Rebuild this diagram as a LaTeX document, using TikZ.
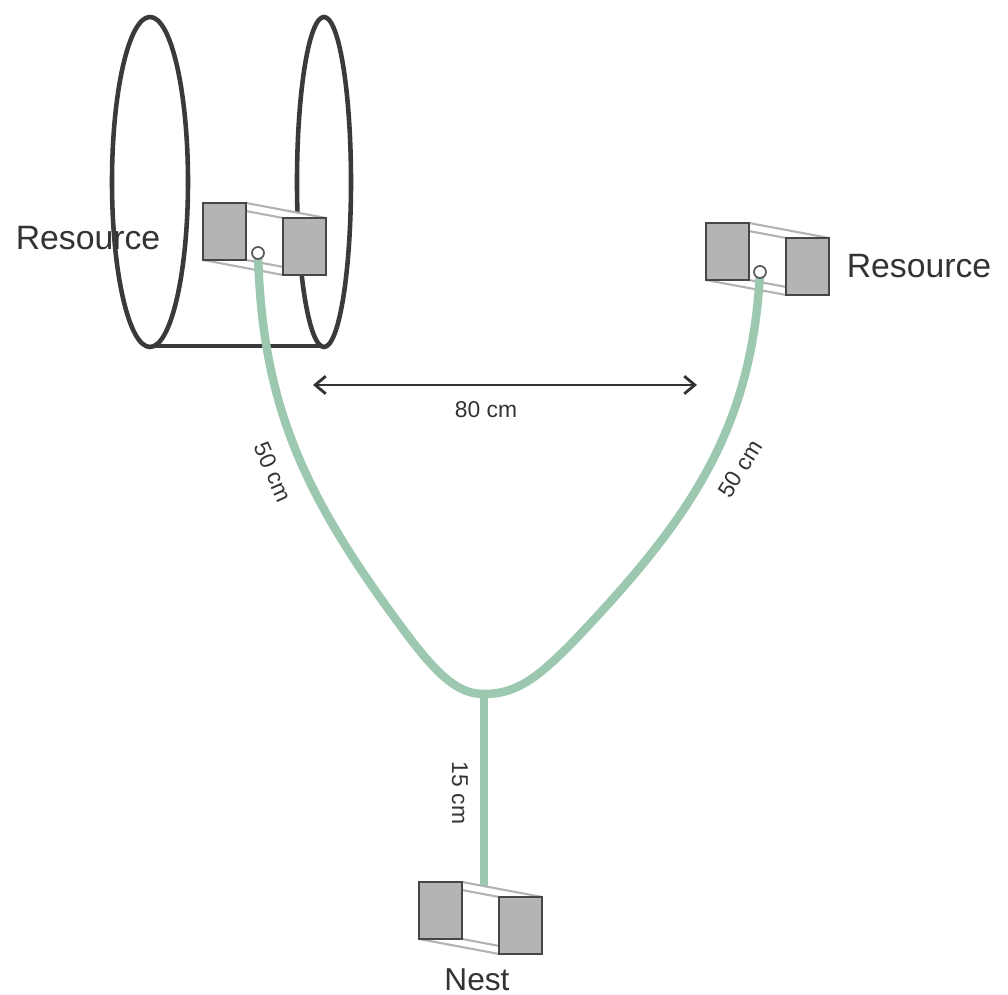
\documentclass[tikz,border=0pt]{standalone}
\usepackage{fontspec}
\setmainfont{Liberation Sans}
\usetikzlibrary{arrows.meta}
\definecolor{ring}{HTML}{3A3A3A}
\definecolor{tubegreen}{HTML}{9DC8B0}
\definecolor{facegray}{HTML}{B4B4B4}
\definecolor{ink}{HTML}{333333}

\tikzset{
  ring/.style={draw=ring,line width=1.3pt},
  face/.style={fill=facegray,draw=gray!55!black,line width=0.5pt},
  rim/.style={draw=gray!60,line width=0.6pt},
  tube/.style={draw=tubegreen,line width=2.4pt},
  hole/.style={draw=gray!70!black,fill=white,line width=0.5pt},
  lbl/.style={text=ink,inner sep=0pt},
}

% prism holder, #1/#2 = top left corner of its front face
\newcommand{\holderbox}[2]{%
  \begin{scope}[shift={(#1,#2)}]
    \fill[white] (0,0) -- (43,0) -- (123,15) -- (123,72) -- (80,72) -- (0,57) -- cycle;
    \foreach \dx/\dy in {0/0,43/0,0/57,43/57}{\draw[rim] (\dx,\dy) -- ++(80,15);}
    \draw[face] (0,0) rectangle (43,57);
    \draw[face] (80,15) rectangle (123,72);
  \end{scope}}

\begin{document}
\begin{tikzpicture}[x=0.01cm,y=-0.01cm]
\useasboundingbox (0,0) rectangle (1008,995);

% hoops of the left resource
\draw[ring] (150,182) ellipse [x radius=38,y radius=165];
\draw[ring] (324,182) ellipse [x radius=27,y radius=165];
\draw[ring,line width=0.9pt] (152,346) -- (323,346);

\holderbox{203}{203}
\holderbox{706}{223}

% tube ends
\coordinate (lhole) at (258,253);
\coordinate (rhole) at (760,272);
\coordinate (fork) at (484,694);
\coordinate (nesttop) at (484,892);

\draw[tube] (lhole) .. controls (262,400) and (300,490) .. (400,625)
  .. controls (440,680) and (460,694) .. (fork)
  .. controls (515,694) and (535,680) .. (570,645)
  .. controls (690,520) and (752,430) .. (rhole);
\draw[tube] (fork) -- (nesttop);
\draw[hole] (lhole) circle (6);
\draw[hole] (rhole) circle (6);

\holderbox{419}{882}

% distances
\coordinate (d1) at (313,385);
\coordinate (d2) at (697,385);
\draw[ink,line width=0.8pt,{Straight Barb[length=3pt,width=5pt]}-{Straight Barb[length=3pt,width=5pt]}] (d1) -- (d2);
\node[lbl,font=\fontsize{6.5}{8}\selectfont] (dist) at (486,410) {80 cm};
\node[lbl,font=\fontsize{6.5}{8}\selectfont,rotate=-66] (lenl) at (273,472) {50 cm};
\node[lbl,font=\fontsize{6.5}{8}\selectfont,rotate=58] (lenr) at (740,469) {50 cm};
\node[lbl,font=\fontsize{6.5}{8}\selectfont,rotate=-90] (stem) at (460,793) {15 cm};

\node[lbl,font=\fontsize{9.6}{11}\selectfont] (resl) at (88,238) {Resource};
\node[lbl,font=\fontsize{9.6}{11}\selectfont] (resr) at (919,266) {Resource};
\node[lbl,font=\fontsize{9}{11}\selectfont] (nest) at (477,980) {Nest};
\end{tikzpicture}
\end{document}
